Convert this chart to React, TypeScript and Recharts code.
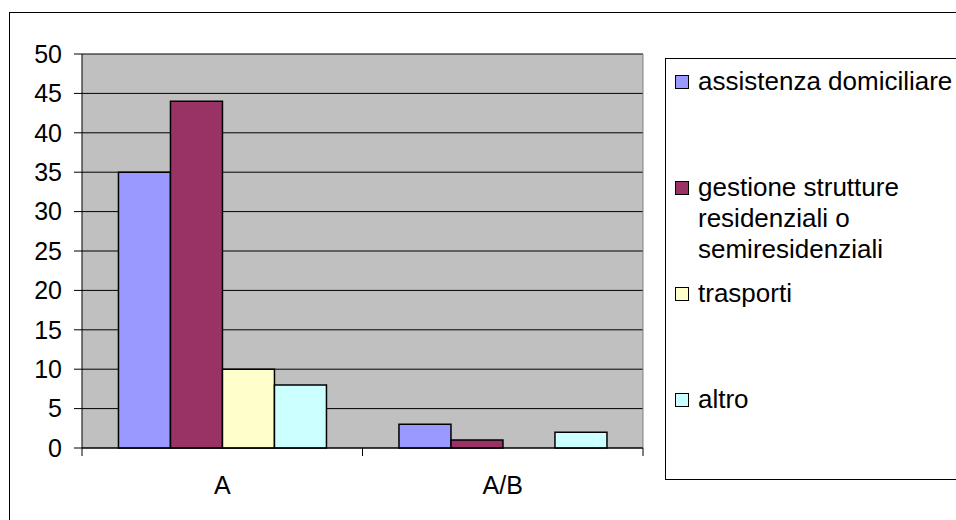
import { Bar, BarChart, CartesianGrid, ReferenceLine, XAxis, YAxis } from 'recharts';

// categories + series
const categories = ['A', 'A/B'];
const seriesNames = [
  'assistenza domiciliare',
  'gestione strutture residenziali o semiresidenziali',
  'trasporti',
  'altro',
];
const assistenza = [35, 3];
const gestione = [44, 1];
const trasporti = [10, 0];
const altro = [8, 2];
const yTicks = [0, 5, 10, 15, 20, 25, 30, 35, 40, 45, 50];

const colors = ['#9999FF', '#993366', '#FFFFCC', '#CCFFFF'];
const keys = ['s0', 's1', 's2', 's3'];
const font = '"Liberation Sans", Arial, sans-serif';

const data = categories.map((name, i) => ({
  name,
  s0: assistenza[i],
  s1: gestione[i],
  s2: trasporti[i],
  s3: altro[i],
}));

const X_TICK_SIZE = 8;
const X_TICK_MARGIN = 20;

// label in the middle of the category, tick marks on the category edges
function CategoryTick(props: any) {
  const { x, y, payload, index, visibleTicksCount } = props;
  const half = payload?.offset ?? 0;
  const axisY = y - X_TICK_SIZE - X_TICK_MARGIN;
  return (
    <g>
      <line x1={x - half} x2={x - half} y1={axisY} y2={axisY + 8} stroke="#000" />
      {index === visibleTicksCount - 1 && (
        <line x1={x + half} x2={x + half} y1={axisY} y2={axisY + 8} stroke="#000" />
      )}
      <text x={x} y={y} dy="0.71em" textAnchor="middle" fontSize={25} fontFamily={font} fill="#000">
        {payload.value}
      </text>
    </g>
  );
}

export default function App() {
  return (
    <div
      style={{
        position: 'absolute',
        left: 0,
        top: 0,
        width: 956,
        height: 520,
        overflow: 'hidden',
        background: '#fff',
        fontFamily: font,
      }}
    >
      <div
        style={{
          position: 'absolute',
          left: 9,
          top: 12,
          width: 1100,
          height: 700,
          border: '1px solid #000',
        }}
      />
      <div style={{ position: 'absolute', left: 0, top: 0 }}>
        <BarChart
          width={956}
          height={520}
          data={data}
          margin={{ top: 54, right: 313, bottom: 0, left: 0 }}
          barCategoryGap="13%"
          barGap={0}
        >
          <CartesianGrid fill="#C0C0C0" stroke="#000" vertical={false} />
          <XAxis
            dataKey="name"
            height={72}
            axisLine={{ stroke: '#000' }}
            tickLine={false}
            tickSize={X_TICK_SIZE}
            tickMargin={X_TICK_MARGIN}
            tick={<CategoryTick />}
            interval={0}
          />
          <YAxis
            width={82}
            domain={[0, 50]}
            ticks={yTicks}
            interval={0}
            axisLine={{ stroke: '#000' }}
            tickLine={{ stroke: '#000' }}
            tickSize={8}
            tickMargin={12}
            tick={{ fill: '#000', fontSize: 25, fontFamily: font }}
          />
          <ReferenceLine x="A/B" position="end" stroke="#808080" />
          {keys.map((k, i) => (
            <Bar
              key={k}
              dataKey={k}
              name={seriesNames[i]}
              fill={colors[i]}
              stroke="#000"
              strokeWidth={1.5}
              isAnimationActive={false}
            />
          ))}
        </BarChart>
      </div>
      <div
        style={{
          position: 'absolute',
          left: 665,
          top: 58,
          width: 400,
          height: 422,
          border: '1px solid #000',
          boxSizing: 'border-box',
          paddingTop: 7,
          fontSize: 26,
          lineHeight: '31px',
          color: '#000',
        }}
      >
        {seriesNames.map((s, i) => (
          <div key={s} style={{ height: 106, display: 'flex', alignItems: 'flex-start' }}>
            <div
              style={{
                width: 12,
                height: 12,
                marginLeft: 9,
                marginTop: 9,
                marginRight: 9,
                background: colors[i],
                border: '1.5px solid #000',
                flexShrink: 0,
              }}
            />
            <div style={{ width: 290 }}>{s}</div>
          </div>
        ))}
      </div>
    </div>
  );
}
